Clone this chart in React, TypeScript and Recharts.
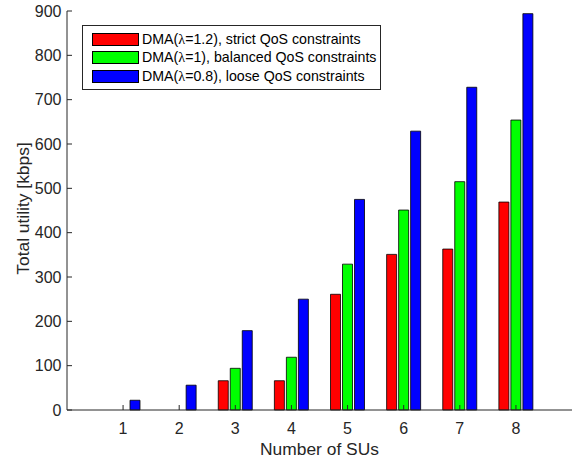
import React from 'react';
import { BarChart, Bar, XAxis, YAxis, Legend } from 'recharts';

const categories = ['1', '2', '3', '4', '5', '6', '7', '8'];
const strictQoS = [0, 0, 66, 66, 261, 351, 363, 469];
const balancedQoS = [0, 0, 94, 119, 329, 451, 515, 654];
const looseQoS = [22, 56, 179, 250, 475, 629, 728, 894];
const yTicks = [0, 100, 200, 300, 400, 500, 600, 700, 800, 900];

const seriesKeys = ['strict', 'balanced', 'loose'];
const lambdaValues = ['1.2', '1', '0.8'];
const seriesDescs = ['strict', 'balanced', 'loose'];
const seriesColors = ['#ff0000', '#00ff00', '#0000ff'];

const data = categories.map((c, i) => ({
  n: c,
  strict: strictQoS[i],
  balanced: balancedQoS[i],
  loose: looseQoS[i],
}));

const FONT = '"Liberation Sans", Arial, Helvetica, sans-serif';
const AX = '#262626';

const LegendBox = () => (
  <div
    style={{
      boxSizing: 'border-box',
      width: 299,
      height: 65,
      border: `1px solid ${AX}`,
      background: '#fff',
      padding: '4px 0 0 9px',
      fontFamily: FONT,
      fontSize: 14.2,
      color: '#000',
    }}
  >
    {seriesKeys.map((k, i) => (
      <div key={k} style={{ display: 'flex', alignItems: 'center', height: 18.5 }}>
        <div
          style={{
            width: 47,
            height: 13,
            boxSizing: 'border-box',
            border: '1px solid #000',
            background: seriesColors[i],
            flex: 'none',
          }}
        />
        <span style={{ marginLeft: 3, whiteSpace: 'nowrap' }}>
          DMA(<span style={{ fontFamily: '"Liberation Serif", "DejaVu Serif", serif' }}>λ</span>=
          {lambdaValues[i]}), {seriesDescs[i]} QoS constraints
        </span>
      </div>
    ))}
  </div>
);

export default function App() {
  const tickStyle = { fontSize: 16, fill: AX, fontFamily: FONT };
  return (
    <div style={{ position: 'absolute', left: 0, top: 0, width: 580, height: 460, background: '#fff' }}>
      <BarChart
        width={580}
        height={460}
        data={data}
        margin={{ top: 11, right: 8, bottom: 0, left: 0 }}
        barSize={10}
        barGap={2}
      >
        <XAxis
          dataKey="n"
          height={50}
          padding={{ left: 28, right: 28 }}
          tick={tickStyle}
          tickSize={-5}
          tickMargin={18}
          stroke={AX}
          axisLine={{ stroke: AX }}
          tickLine={{ stroke: AX }}
          interval={0}
          label={{
            value: 'Number of SUs',
            position: 'insideBottom',
            offset: 5,
            fill: AX,
            fontSize: 17.4,
            fontFamily: FONT,
          }}
        />
        <XAxis
          xAxisId="top"
          dataKey="n"
          orientation="top"
          height={0}
          padding={{ left: 28, right: 28 }}
          tickSize={-5}
          tickFormatter={() => ''}
          stroke={AX}
          interval={0}
        />
        <YAxis
          width={67}
          domain={[0, 900]}
          ticks={yTicks}
          interval={0}
          tick={tickStyle}
          tickSize={-5}
          tickMargin={10.5}
          stroke={AX}
          label={{
            value: 'Total utility [kbps]',
            angle: -90,
            position: 'center',
            dx: -11,
            dy: -2,
            fill: AX,
            fontSize: 17.4,
            fontFamily: FONT,
          }}
        />
        <YAxis
          yAxisId="right"
          orientation="right"
          width={0}
          domain={[0, 900]}
          ticks={yTicks}
          interval={0}
          tickSize={-5}
          tickFormatter={() => ''}
          stroke={AX}
        />
        <Legend
          layout="vertical"
          align="center"
          verticalAlign="middle"
          content={() => <LegendBox />}
          wrapperStyle={{ left: 82, top: 25, width: 299, height: 65 }}
        />
        {seriesKeys.map((k, i) => (
          <Bar
            key={k}
            dataKey={k}
            fill={seriesColors[i]}
            stroke="#000"
            strokeWidth={0.8}
            isAnimationActive={false}
          />
        ))}
      </BarChart>
    </div>
  );
}
